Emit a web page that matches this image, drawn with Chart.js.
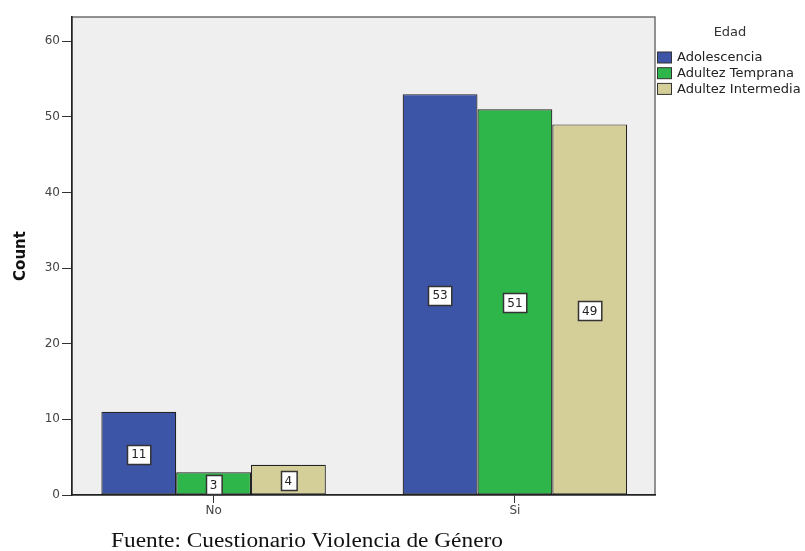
<!DOCTYPE html>
<html>
<head>
<meta charset="utf-8">
<script src="https://cdn.jsdelivr.net/npm/chart.js@4.4.1/dist/chart.umd.min.js"></script>
<style>
  body { margin: 0; background: #fff; }
  .wrap { position: relative; width: 805px; height: 551px; }
  .fuente {
    position: absolute; left: 111px; top: 530px;
    font-family: "Liberation Serif", serif; font-size: 20px; line-height: 20px;
    color: #111; white-space: nowrap;
    transform: scaleX(1.166); transform-origin: left top;
  }
</style>
</head>
<body>
<div class="wrap">
  <canvas id="chart" width="805" height="551"></canvas>
  <div class="fuente">Fuente: Cuestionario Violencia de Género</div>
</div>
<script>
const categories = ["No", "Si"];
const adolescencia = [11, 53];
const adultezTemprana = [3, 51];
const adultezIntermedia = [4, 49];
const yTicks = [0, 10, 20, 30, 40, 50, 60];

const seriesNames = ["Adolescencia", "Adultez Temprana", "Adultez Intermedia"];
const seriesColors = ["#3c55a6", "#2fb64a", "#d4ce98"];
const seriesValues = [adolescencia, adultezTemprana, adultezIntermedia];

const FONT = "'DejaVu Sans', sans-serif";

// plot background and the grey frame round it
const frame = {
  id: "frame",
  beforeDraw(chart) {
    const { ctx, chartArea: a } = chart;
    ctx.save();
    ctx.fillStyle = "#efefef";
    ctx.fillRect(a.left, a.top, a.right - a.left, a.bottom - a.top);
    ctx.strokeStyle = "#6f6f6f";
    ctx.lineWidth = 1.5;
    ctx.strokeRect(a.left, a.top, a.right - a.left, a.bottom - a.top);
    ctx.restore();
  }
};

// white boxed counts in the middle of each bar
const boxLabels = {
  id: "boxLabels",
  afterDatasetsDraw(chart) {
    const ctx = chart.ctx;
    ctx.save();
    ctx.font = "12px " + FONT;
    ctx.textAlign = "center";
    ctx.textBaseline = "middle";
    chart.data.datasets.forEach((ds, di) => {
      chart.getDatasetMeta(di).data.forEach((bar, i) => {
        const p = bar.getCenterPoint();
        const txt = String(ds.data[i].y);
        const w = ctx.measureText(txt).width + 8;
        const h = 19;
        const x = Math.round(p.x - w / 2) + 0.5;
        const y = Math.round(p.y - h / 2 + 1) + 0.5;
        ctx.fillStyle = "#fff";
        ctx.fillRect(x, y, w, h);
        ctx.strokeStyle = "#333";
        ctx.lineWidth = 1.5;
        ctx.strokeRect(x, y, w, h);
        ctx.fillStyle = "#222";
        ctx.fillText(txt, p.x, p.y + 2);
      });
    });
    ctx.restore();
  }
};

// SPSS style legend to the right of the plot
const sideLegend = {
  id: "sideLegend",
  afterDraw(chart) {
    const ctx = chart.ctx;
    ctx.save();
    ctx.font = "13px " + FONT;
    ctx.fillStyle = "#333";
    ctx.textBaseline = "middle";
    ctx.textAlign = "center";
    ctx.fillText("Edad", 730, 33);
    ctx.textAlign = "left";
    chart.data.datasets.forEach((ds, i) => {
      const y = 52 + i * 15.7;
      ctx.fillStyle = ds.backgroundColor;
      ctx.fillRect(657.5, y, 14, 11);
      ctx.strokeStyle = "#333";
      ctx.lineWidth = 1;
      ctx.strokeRect(657.5, y, 14, 11);
      ctx.fillStyle = "#222";
      ctx.fillText(ds.label, 677, y + 6);
    });
    ctx.restore();
  }
};

new Chart(document.getElementById("chart"), {
  type: "bar",
  data: {
    datasets: seriesNames.map((name, s) => ({
      label: name,
      data: seriesValues[s].map((v, i) => ({ x: i, y: v })),
      backgroundColor: seriesColors[s],
      borderColor: "#222",
      borderWidth: 1.2,
      borderSkipped: false,
      categoryPercentage: 0.745,
      barPercentage: 1
    }))
  },
  options: {
    responsive: false,
    animation: false,
    layout: { padding: { top: 17, right: 150, left: 0, bottom: 0 } },
    plugins: { legend: { display: false }, tooltip: { enabled: false } },
    scales: {
      x: {
        type: "linear",
        min: -0.47,
        max: 1.465,
        offset: false,
        afterBuildTicks: s => { s.ticks = categories.map((c, i) => ({ value: i })); },
        afterFit: s => { s.height = 56; },
        grid: { offset: false, drawOnChartArea: false, drawTicks: true, tickLength: 8, color: "#333", lineWidth: 1 },
        border: { display: true, color: "#222", width: 1.5 },
        ticks: {
          callback: v => categories[v],
          font: { family: FONT, size: 12 },
          color: "#444",
          padding: 1,
          maxRotation: 0
        }
      },
      y: {
        min: 0,
        max: 63.2,
        afterBuildTicks: s => { s.ticks = yTicks.map(v => ({ value: v })); },
        afterFit: s => { s.width = 72; },
        grid: { drawOnChartArea: false, drawTicks: true, tickLength: 10, color: "#333", lineWidth: 1 },
        border: { display: true, color: "#222", width: 1.5 },
        ticks: {
          font: { family: FONT, size: 12 },
          color: "#444",
          padding: 2
        },
        title: {
          display: true,
          text: "Count",
          font: { family: FONT, size: 15, weight: "bold" },
          color: "#111",
          padding: { top: 12, bottom: 0 }
        }
      }
    }
  },
  plugins: [frame, boxLabels, sideLegend]
});
</script>
</body>
</html>
